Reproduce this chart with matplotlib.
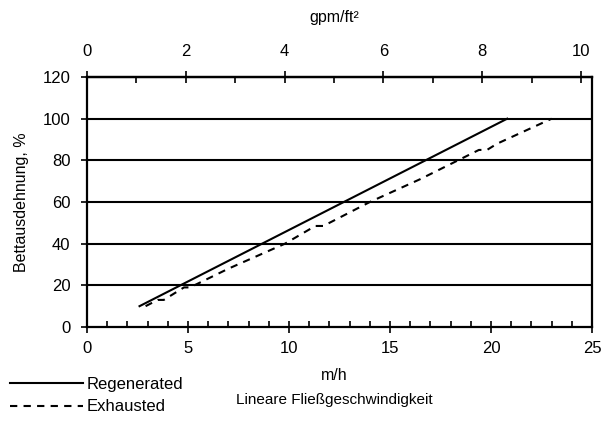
import matplotlib
matplotlib.use("Agg")
import matplotlib.pyplot as plt
from matplotlib.ticker import MultipleLocator, FixedLocator

plt.rcParams['font.family'] = ['Liberation Sans', 'DejaVu Sans']

# Daten
regen_x = [2.6, 20.8]
regen_y = [10, 100]

exh_x = [2.9, 3.5, 3.8, 4.8, 5.1, 7.0, 9.8, 11.3, 11.7, 14.0, 16.5, 19.4, 19.8, 20.3, 23.0]
exh_y = [10, 13, 13, 19, 19, 28, 40, 48.5, 48.5, 60, 71, 85, 85, 88, 100]

gpm_major = [0, 2, 4, 6, 8, 10]
gpm_minor = [1, 3, 5, 7, 9]
GPM_FACTOR = 2.445  # 1 gpm/ft2 = 2.445 m/h

fig = plt.figure(figsize=(6.03, 4.28), dpi=100)
ax = fig.add_axes([0.1443, 0.236, 0.8375, 0.584])

for y in range(20, 121, 20):
    ax.axhline(y, color='black', lw=1.5, zorder=1)

ax.plot(regen_x, regen_y, color='black', lw=1.5, label='Regenerated', zorder=3)
ax.plot(exh_x, exh_y, color='black', lw=1.5, ls=(0, (3.5, 3)), label='Exhausted', zorder=3)

ax.set_xlim(0, 25)
ax.set_ylim(0, 120)
ax.xaxis.set_major_locator(MultipleLocator(5))
ax.xaxis.set_minor_locator(MultipleLocator(1))
ax.yaxis.set_major_locator(MultipleLocator(20))

for s in ['left', 'bottom', 'right', 'top']:
    ax.spines[s].set_linewidth(1.6)

ax.tick_params(axis='x', which='major', direction='inout', length=8, width=1.2, labelsize=12, pad=6)
ax.tick_params(axis='x', which='minor', direction='in', length=4, width=1.2)
ax.tick_params(axis='y', which='major', direction='out', length=4, width=1.2, labelsize=12, pad=8)

# obere Achse in gpm/ft2
sec = ax.secondary_xaxis('top', functions=(lambda v: v / GPM_FACTOR, lambda v: v * GPM_FACTOR))
sec.xaxis.set_major_locator(FixedLocator(gpm_major))
sec.xaxis.set_minor_locator(FixedLocator(gpm_minor))
sec.spines['top'].set_linewidth(1.6)
sec.tick_params(which='major', direction='inout', length=8, width=1.2, labelsize=12, pad=9)
sec.tick_params(which='minor', direction='in', length=4, width=1.2)

narrow = ['Liberation Sans Narrow', 'Liberation Sans', 'DejaVu Sans']
fig.text(0.555, 0.96, 'gpm/ft²', ha='center', va='center', fontsize=11.5, family=narrow)
fig.text(0.555, 0.122, 'm/h', ha='center', va='center', fontsize=11.5, family=narrow)
fig.text(0.555, 0.065, 'Lineare Fließgeschwindigkeit', ha='center', va='center', fontsize=11, family=narrow)
fig.text(0.036, 0.528, 'Bettausdehnung, %', ha='center', va='center', rotation=90, fontsize=11.5)

fig.legend(loc='upper left', bbox_to_anchor=(0.005, 0.135), frameon=False, fontsize=12,
           handlelength=4.4, handletextpad=0.2, labelspacing=0.45, borderaxespad=0)

fig.savefig('out.png', dpi=100)
